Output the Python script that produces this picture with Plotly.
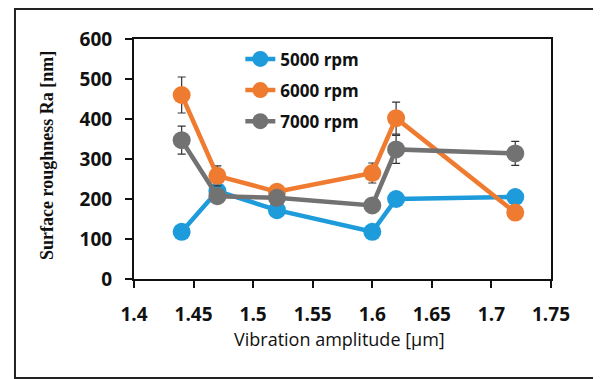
import plotly.graph_objects as go

amplitude = [1.44, 1.47, 1.52, 1.60, 1.62, 1.72]
rpm_5000 = [118, 220, 172, 118, 200, 205]
rpm_6000 = [460, 258, 218, 265, 402, 166]
rpm_7000 = [347, 207, 203, 184, 324, 314]
err_5000 = [0, 0, 0, 0, 0, 0]
err_6000 = [45, 25, 0, 25, 40, 0]
err_7000 = [35, 12, 0, 0, 35, 30]
series_names = ["5000 rpm", "6000 rpm", "7000 rpm"]
colors = ["#1E9BDB", "#EF7B30", "#727272"]

fig = go.Figure()
for name, vals, errs, col in zip(series_names, [rpm_5000, rpm_6000, rpm_7000],
                                 [err_5000, err_6000, err_7000], colors):
    fig.add_trace(go.Scatter(
        x=amplitude, y=vals, name=name, legendgroup=name, mode="lines+markers",
        line=dict(color=col, width=4.5),
        marker=dict(color=col, size=18),
        error_y=dict(type="data", array=errs, visible=True, color="#333333",
                     thickness=1.2, width=4),
    ))

axis_common = dict(showgrid=False, showline=True, linecolor="#111111", linewidth=2,
                   mirror=True, ticks="outside", ticklen=7, tickcolor="#111111",
                   tickwidth=2, zeroline=False,
                   tickfont=dict(family="Open Sans", size=19, color="#111111", weight="bold"))

fig.update_layout(
    width=593, height=371,
    margin=dict(l=126, r=50, t=31, b=100),
    paper_bgcolor="white", plot_bgcolor="white",
    showlegend=True,
    legend=dict(x=0.255, y=0.99, xanchor="left", yanchor="top",
                bgcolor="rgba(0,0,0,0)", traceorder="grouped", tracegroupgap=6,
                font=dict(family="Open Sans", size=17, color="#111111", weight="bold")),
    xaxis=dict(range=[1.4, 1.75], dtick=0.05, ticklabelstandoff=10, **axis_common),
    yaxis=dict(range=[0, 600], dtick=100, ticklabelstandoff=9, **axis_common),
)

fig.add_annotation(text="Vibration amplitude [µm]", xref="paper", yref="paper",
                   x=0.494, y=-0.25, xanchor="center", yanchor="middle", showarrow=False,
                   font=dict(family="Open Sans", size=18, color="#111111"))
fig.add_annotation(text="Surface roughness Ra [nm]", xref="paper", yref="paper",
                   x=-0.2086, y=0.5125, xanchor="center", yanchor="middle", showarrow=False,
                   textangle=-90,
                   font=dict(family="Liberation Serif", size=18, color="#111111", weight="bold"))

fig.add_shape(type="rect", xref="paper", yref="paper",
              x0=-0.2854, x1=1.1175, y0=-0.4125, y1=1.125,
              line=dict(color="#222222", width=2))

fig.write_html("out.html")
